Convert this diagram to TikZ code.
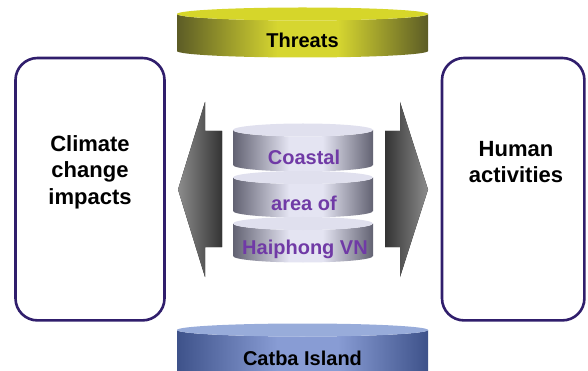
\documentclass[tikz,border=0pt]{standalone}
\usepackage{fontspec}
\setmainfont{Liberation Sans}
\usepackage{tikz}
\usetikzlibrary{positioning}
\definecolor{boxline}{RGB}{48,30,108}
\definecolor{labelpurple}{RGB}{112,58,166}
\definecolor{threattop}{RGB}{214,214,42}
\definecolor{threatdark}{RGB}{92,92,38}
\definecolor{threatlight}{RGB}{214,214,48}
\definecolor{catbatop}{RGB}{152,172,218}
\definecolor{catbadark}{RGB}{62,82,138}
\definecolor{catbalight}{RGB}{136,156,212}
\definecolor{cyltop}{RGB}{224,224,238}
\definecolor{cyldark}{RGB}{98,98,114}
\definecolor{cyllight}{RGB}{228,228,242}
\definecolor{arrowdark}{RGB}{52,52,52}
\definecolor{arrowlight}{RGB}{140,140,140}
\colorlet{discdark}{black}
\colorlet{disclight}{white}
\pgfdeclarehorizontalshading[discdark,disclight]{discside}{100bp}{color(0bp)=(discdark);
  color(25bp)=(discdark); color(45bp)=(disclight); color(57bp)=(disclight);
  color(75bp)=(discdark); color(100bp)=(discdark)}

\begin{document}
\begin{tikzpicture}[x=1pt, y=-1pt,
  sidebox/.style={draw=boxline, line width=2.6pt, rounded corners=22pt, fill=white,
    minimum width=#1, minimum height=262.4pt, inner sep=0pt},
  boxtext/.style={font=\fontsize{22}{26.5}\selectfont\bfseries, align=center, anchor=north, inner sep=0pt},
  disctext/.style={font=\fontsize{20}{24}\selectfont\bfseries, anchor=base, inner sep=0pt},
  discshade/.style 2 args={/utils/exec={\colorlet{discdark}{#1}\colorlet{disclight}{#2}}, shading=discside}]
\useasboundingbox (0,0) rectangle (588,371);
\clip (0,0) rectangle (588,371);

\node[sidebox=149pt] (climatebox) at (90,189.2) {};
\node[sidebox=142.4pt] (humanbox) at (513.2,189.2) {};
\node[boxtext] (climate) at (90,135) {Climate\\change\\impacts};
\node[boxtext] (human) at (516,141) {Human\\activities};

\shade[discshade={threatdark}{threatlight}]
  (177,14) -- (177,51) arc[start angle=180, end angle=0, x radius=125.5, y radius=6.5]
  -- (428,14) arc[start angle=0, end angle=180, x radius=125.5, y radius=6.5] -- cycle;
\fill[threattop] (302.5,14) ellipse[x radius=125.5, y radius=6.5];
\node[disctext] (threats) at (302.5,48) {Threats};

\shade[discshade={catbadark}{catbalight}]
  (177,330) -- (177,385) -- (428,385) -- (428,330)
  arc[start angle=0, end angle=180, x radius=125.5, y radius=6.5] -- cycle;
\fill[catbatop] (302.5,330) ellipse[x radius=125.5, y radius=6.5];
\node[disctext] (catba) at (302.5,365) {Catba Island};

\fill[left color=arrowlight, right color=arrowdark]
  (222,131) -- (205,131) -- (205,102) -- (178,189.5) -- (205,277) -- (205,247) -- (222,247) -- cycle;
\fill[left color=arrowdark, right color=arrowlight]
  (385,131) -- (400,131) -- (400,102) -- (428,189.5) -- (400,277) -- (400,247) -- (385,247) -- cycle;

\foreach \t/\b in {130/165, 177.5/211, 223.5/256} {
  \shade[discshade={cyldark}{cyllight}]
    (233,\t) -- (233,\b) arc[start angle=180, end angle=0, x radius=70, y radius=6.5]
    -- (373,\t) arc[start angle=0, end angle=180, x radius=70, y radius=6.5] -- cycle;
  \fill[cyltop] (303,\t) ellipse[x radius=70, y radius=6.5];
}
\node[disctext, text=labelpurple] (coastal) at (304,164.5) {Coastal};
\node[disctext, text=labelpurple] (areaof) at (304,210.5) {area of};
\node[disctext, text=labelpurple] (haiphong) at (305,254) {Haiphong VN};
\end{tikzpicture}
\end{document}
